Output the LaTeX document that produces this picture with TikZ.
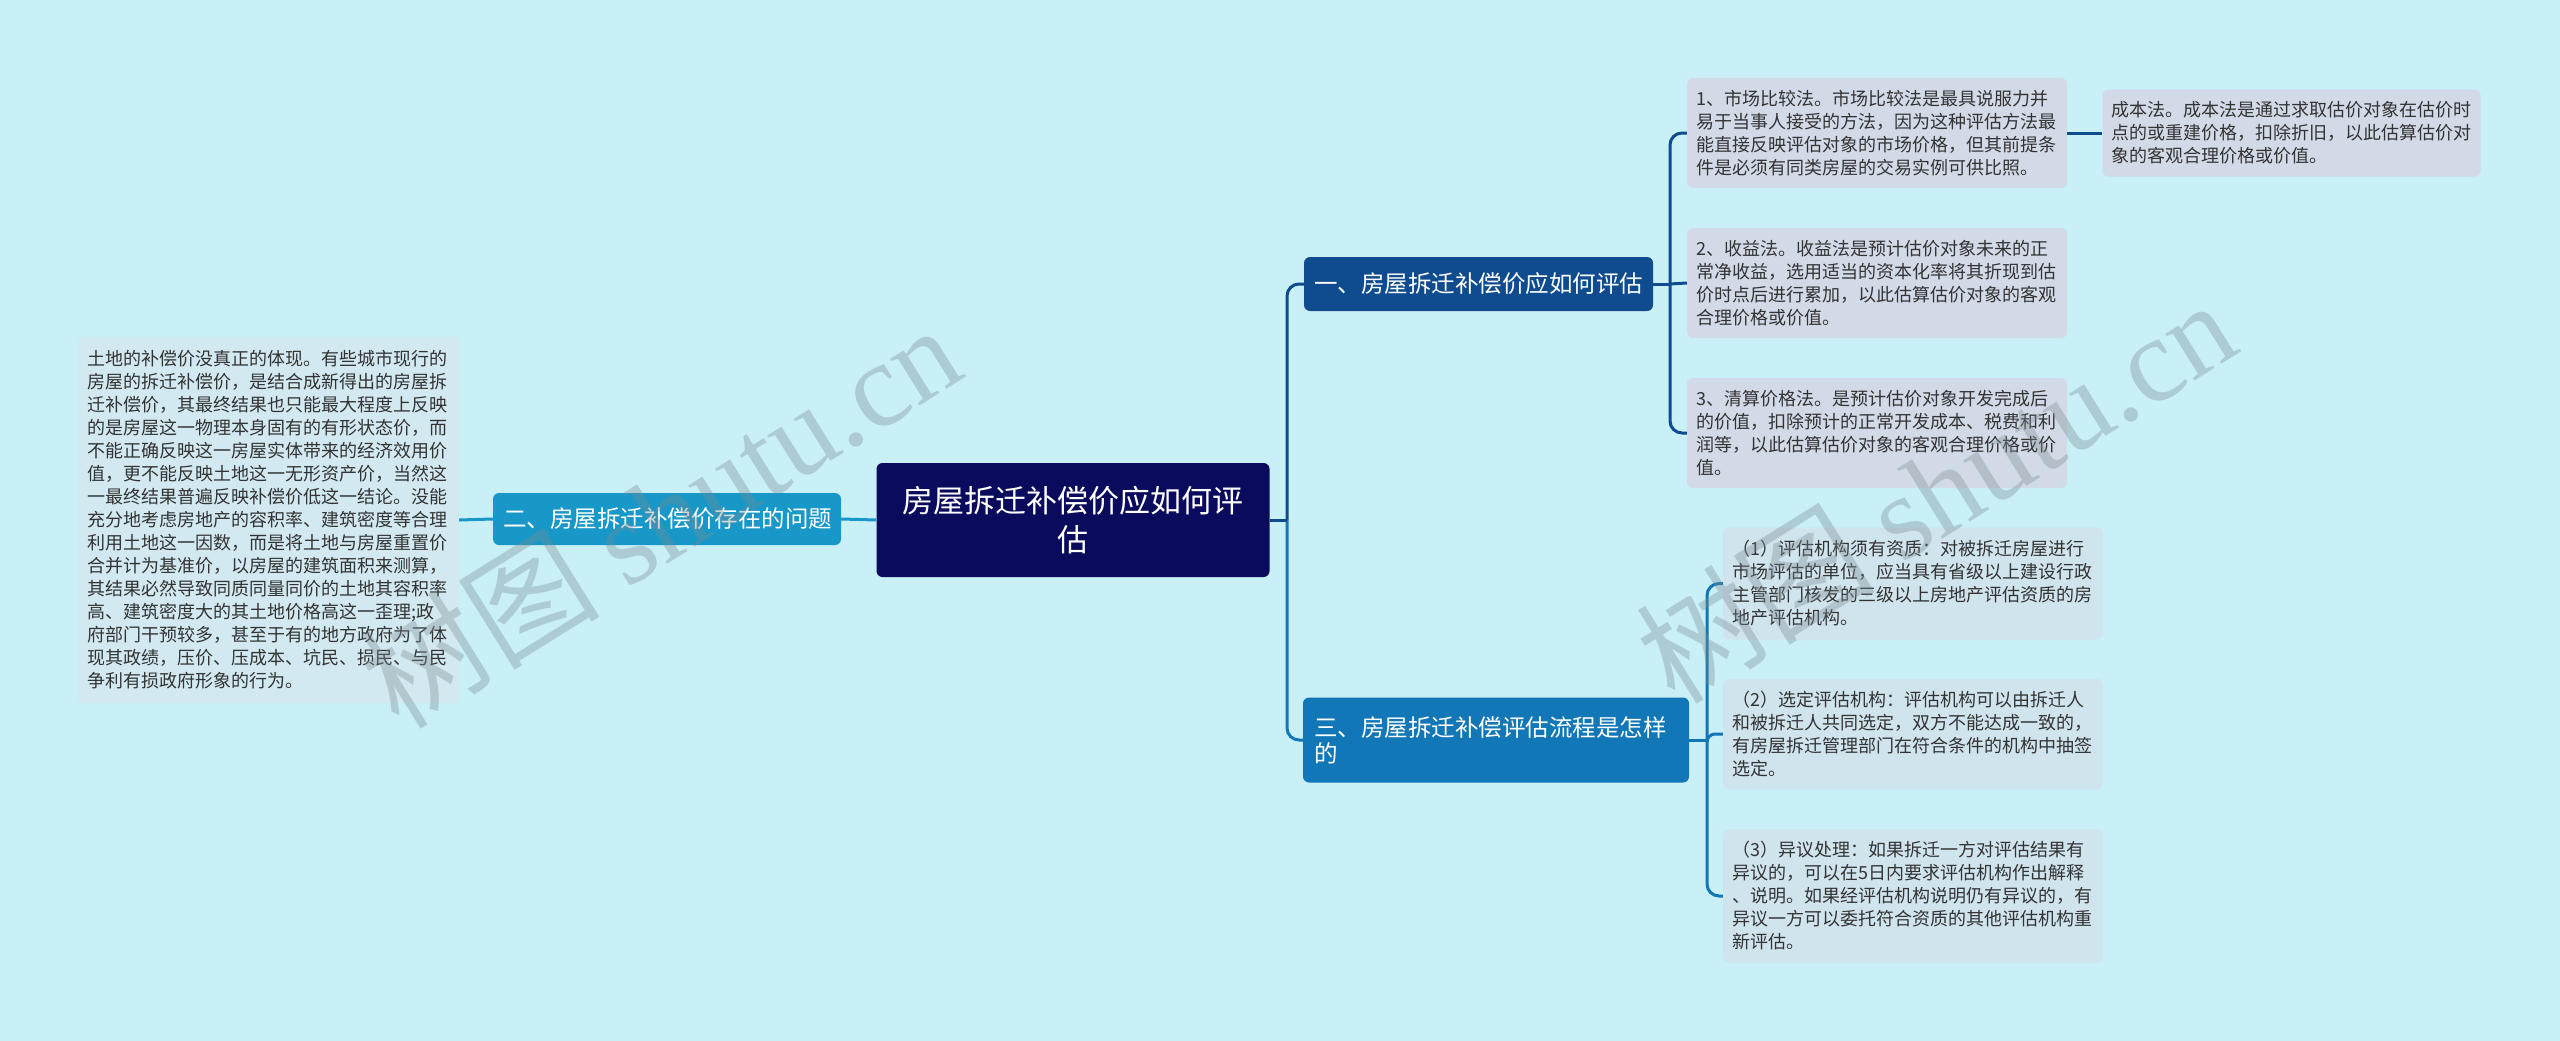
\documentclass[tikz,border=0pt]{standalone}
\usepackage{fontspec}
\setmainfont{Noto Sans CJK SC}
\newfontfamily\wmlatin{Liberation Serif}

\definecolor{bgcyan}{HTML}{C9EFF7}
\definecolor{rootnavy}{HTML}{0B0B5E}
\definecolor{onecol}{HTML}{0F4C8F}
\definecolor{twocol}{HTML}{1798C8}
\definecolor{threecol}{HTML}{1277B6}
\definecolor{leafone}{HTML}{D2DAE8}
\definecolor{leafthree}{HTML}{D0E4EE}
\definecolor{leaftwo}{HTML}{D2E9F1}
\definecolor{leafink}{HTML}{333333}
\definecolor{wmgray}{HTML}{7A8A90}

\tikzset{
  rootbox/.style={fill=rootnavy, text=white, rounded corners=6pt,
    font=\fontsize{31}{39}\selectfont, align=center, inner sep=0pt},
  branchbox/.style={text=white, rounded corners=6pt,
    font=\fontsize{23.5}{26}\selectfont, align=left, inner xsep=10pt, inner ysep=0pt},
  leafbox/.style={text=leafink, rounded corners=6pt,
    font=\fontsize{18}{23}\selectfont, align=left, inner xsep=9pt, inner ysep=0pt},
  link/.style={line width=3pt},
  watermark/.style={text=wmgray, opacity=0.35, font=\fontsize{120}{120}\selectfont, inner sep=0pt}
}

\begin{document}
\begin{tikzpicture}[x=1pt,y=-1pt]
  \fill[bgcyan] (0,0) rectangle (2560,1041);
  \useasboundingbox (0,0) rectangle (2560,1041);

  % centre and the three branches
  \node[rootbox, minimum width=393pt, minimum height=114pt, text width=373pt]
    (root) at (1073,520) {房屋拆迁补偿价应如何评\\估};
  \node[branchbox, fill=onecol, minimum width=349pt, minimum height=54pt, text width=329pt]
    (one) at (1478.5,284) {一、房屋拆迁补偿价应如何评估};
  \node[branchbox, fill=twocol, minimum width=348pt, minimum height=52pt, text width=328pt]
    (two) at (667,519) {二、房屋拆迁补偿价存在的问题};
  \node[branchbox, fill=threecol, minimum width=386pt, minimum height=85pt, text width=364pt, inner xsep=11pt]
    (three) at (1496,740) {三、房屋拆迁补偿评估流程是怎样\\的};

  % leaves of branch one
  \node[leafbox, fill=leafone, minimum width=380pt, minimum height=110pt, text width=362pt]
    (market) at (1877,133) {1、市场比较法。市场比较法是最具说服力并\\易于当事人接受的方法，因为这种评估方法最\\能直接反映评估对象的市场价格，但其前提条\\件是必须有同类房屋的交易实例可供比照。};
  \node[leafbox, fill=leafone, minimum width=378pt, minimum height=87pt, text width=360pt]
    (cost) at (2291.5,133) {成本法。成本法是通过求取估价对象在估价时\\点的或重建价格，扣除折旧，以此估算估价对\\象的客观合理价格或价值。};
  \node[leafbox, fill=leafone, minimum width=380pt, minimum height=110pt, text width=362pt]
    (income) at (1877,283) {2、收益法。收益法是预计估价对象未来的正\\常净收益，选用适当的资本化率将其折现到估\\价时点后进行累加，以此估算估价对象的客观\\合理价格或价值。};
  \node[leafbox, fill=leafone, minimum width=380pt, minimum height=110pt, text width=362pt]
    (liquid) at (1877,433) {3、清算价格法。是预计估价对象开发完成后\\的价值，扣除预计的正常开发成本、税费和利\\润等，以此估算估价对象的客观合理价格或价\\值。};

  % leaf of branch two
  \node[leafbox, fill=leaftwo, minimum width=381pt, minimum height=366pt, text width=363pt]
    (problem) at (268.5,520) {土地的补偿价没真正的体现。有些城市现行的\\房屋的拆迁补偿价，是结合成新得出的房屋拆\\迁补偿价，其最终结果也只能最大程度上反映\\的是房屋这一物理本身固有的有形状态价，而\\不能正确反映这一房屋实体带来的经济效用价\\值，更不能反映土地这一无形资产价，当然这\\一最终结果普遍反映补偿价低这一结论。没能\\充分地考虑房地产的容积率、建筑密度等合理\\利用土地这一因数，而是将土地与房屋重置价\\合并计为基准价，以房屋的建筑面积来测算，\\其结果必然导致同质同量同价的土地其容积率\\高、建筑密度大的其土地价格高这一歪理;政\\府部门干预较多，甚至于有的地方政府为了体\\现其政绩，压价、压成本、坑民、损民、与民\\争利有损政府形象的行为。};

  % leaves of branch three
  \node[leafbox, fill=leafthree, minimum width=380pt, minimum height=112pt, text width=362pt]
    (qualify) at (1913,583.5) {（1）评估机构须有资质：对被拆迁房屋进行\\市场评估的单位，应当具有省级以上建设行政\\主管部门核发的三级以上房地产评估资质的房\\地产评估机构。};
  \node[leafbox, fill=leafthree, minimum width=380pt, minimum height=110pt, text width=362pt]
    (select) at (1913,734) {（2）选定评估机构：评估机构可以由拆迁人\\和被拆迁人共同选定，双方不能达成一致的，\\有房屋拆迁管理部门在符合条件的机构中抽签\\选定。};
  \node[leafbox, fill=leafthree, minimum width=380pt, minimum height=134pt, text width=362pt]
    (dispute) at (1913,896) {（3）异议处理：如果拆迁一方对评估结果有\\异议的，可以在5日内要求评估机构作出解释\\、说明。如果经评估机构说明仍有异议的，有\\异议一方可以委托符合资质的其他评估机构重\\新评估。};

  \coordinate (rootfork) at (1287,520);
  \coordinate (onefork) at (1670,284);
  \coordinate (threefork) at (1707,740);

  % connectors
  \draw[link, twocol] (root.west) -- (two.east);
  \draw[link, twocol] (two.west) -- (problem.east);
  \draw[link, threecol, rounded corners=12pt] (rootfork) |- (three.west);
  \draw[link, onecol, rounded corners=12pt] (rootfork) |- (one.west);
  \draw[link, onecol] (root.east) -- (rootfork);

  \draw[link, onecol] (one.east) -- (onefork);
  \draw[link, onecol, rounded corners=12pt] (onefork) |- (market.west);
  \draw[link, onecol] (onefork) -- (income.west);
  \draw[link, onecol, rounded corners=12pt] (onefork) |- (liquid.west);
  \draw[link, onecol] (market.east) -- (cost.west);

  \draw[link, threecol] (three.east) -- (threefork);
  \draw[link, threecol, rounded corners=12pt] (threefork) |- (qualify.west);
  \draw[link, threecol, rounded corners=8pt] (threefork) |- (select.west);
  \draw[link, threecol, rounded corners=12pt] (threefork) |- (dispute.west);

  % watermarks
  \node[watermark, rotate=32] (markleft) at (660,515) {树图 {\wmlatin shutu.cn}};
  \node[watermark, rotate=32] (markright) at (1935,490) {树图 {\wmlatin shutu.cn}};
\end{tikzpicture}
\end{document}
